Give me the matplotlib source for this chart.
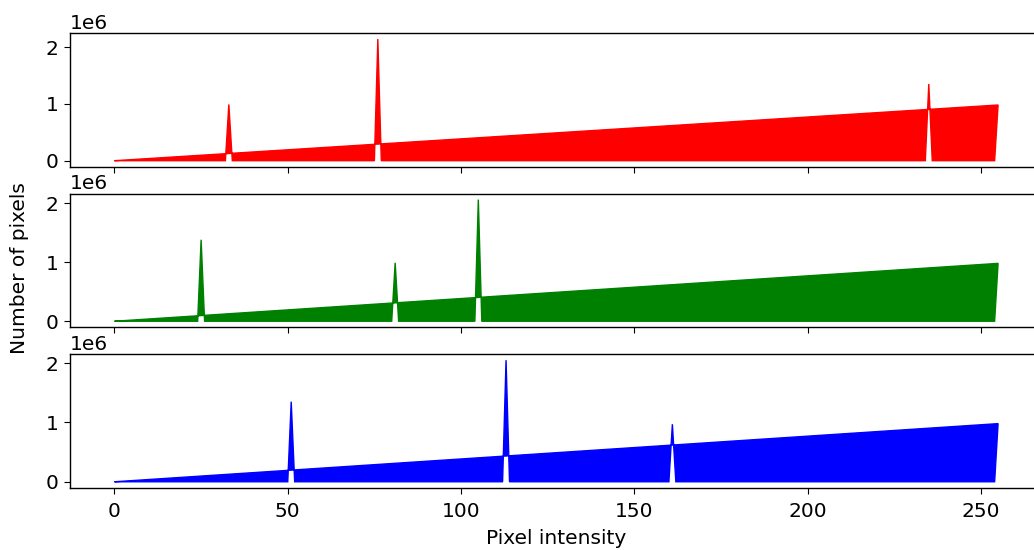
import numpy as np
import matplotlib
matplotlib.use("Agg")
import matplotlib.pyplot as plt

# pixel intensity bins
bins = np.arange(256)

# non-zero histogram bins per channel
red_bins = [33, 76, 235, 255]
red_counts = [0.99e6, 2.14e6, 1.35e6, 0.98e6]
green_bins = [25, 81, 105, 255]
green_counts = [1.38e6, 0.99e6, 2.06e6, 0.98e6]
blue_bins = [51, 113, 161, 255]
blue_counts = [1.35e6, 2.05e6, 0.97e6, 0.98e6]

channels = [(red_bins, red_counts, 'red'),
            (green_bins, green_counts, 'green'),
            (blue_bins, blue_counts, 'blue')]

plt.rcParams['font.size'] = 14.5
plt.rcParams['xtick.major.size'] = 4
plt.rcParams['ytick.major.size'] = 4.5
plt.rcParams['xtick.major.pad'] = 6
plt.rcParams['ytick.major.pad'] = 4
plt.rcParams['axes.linewidth'] = 1.0

fig, axes = plt.subplots(3, 1, sharex=True, figsize=(10.34, 5.5), dpi=100)
# right edge of the axes falls just outside the picture, as in the original
fig.subplots_adjust(left=0.068, right=1.008, top=0.94, bottom=0.113, hspace=0.2)

for ax, (b, c, col) in zip(axes, channels):
    hist = np.zeros(256)
    hist[b] = c
    ax.fill(bins, hist, color=col)  # polygon closes back to (0,0)
    ax.set_yticks([0, 1e6, 2e6])

axes[-1].set_xlabel('Pixel intensity', labelpad=6)
fig.text(0.019, 0.513, 'Number of pixels', rotation=90, ha='center', va='center')

fig.savefig('out.png', dpi=100)
